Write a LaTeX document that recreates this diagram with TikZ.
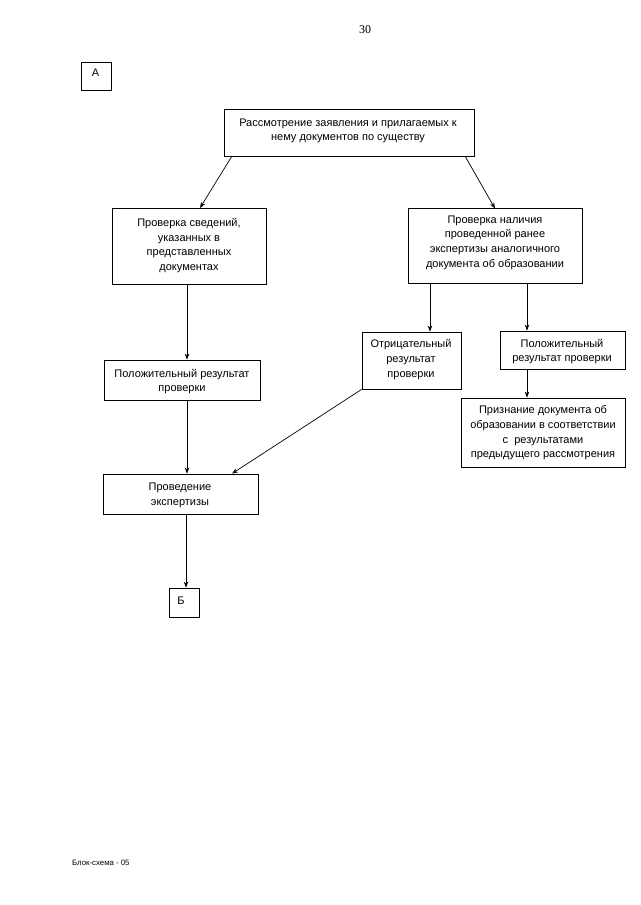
\documentclass[tikz,border=0pt]{standalone}
\usepackage{fontspec}
\setmainfont{Liberation Sans}
\newfontfamily\serifnum{Liberation Serif}
\usetikzlibrary{arrows.meta}
\begin{document}
\begin{tikzpicture}[x=1pt,y=-1pt,
  every node/.style={font=\fontsize{11}{14.6}\selectfont},
  blk/.style={draw,line width=0.8pt,inner sep=0pt},
  txt/.style={align=center,inner sep=0pt},
  arr/.style={line width=0.7pt,-{Stealth[length=6pt,width=4.5pt]}}]
\useasboundingbox (0,0) rectangle (640,905);
\node[font=\serifnum\fontsize{12}{14}\selectfont] (pg) at (365,30) {30};
% boxes
\node[blk,minimum width=30pt,minimum height=28pt] (A) at (96.5,76) {};
\node[blk,minimum width=250pt,minimum height=47pt] (top) at (349,132.5) {};
\node[blk,minimum width=154pt,minimum height=76pt] (chk1) at (189,246) {};
\node[blk,minimum width=174pt,minimum height=75pt] (chk2) at (495,246) {};
\node[blk,minimum width=156pt,minimum height=40pt] (pos1) at (182,380) {};
\node[blk,minimum width=99pt,minimum height=57pt] (neg) at (411.5,360.5) {};
\node[blk,minimum width=125pt,minimum height=38pt] (pos2) at (562.5,350) {};
\node[blk,minimum width=164pt,minimum height=69pt] (rec) at (543,432.5) {};
\node[blk,minimum width=155pt,minimum height=40pt] (exp) at (180.5,494) {};
\node[blk,minimum width=30pt,minimum height=29pt] (B) at (184,602.5) {};
% texts
\node[txt] (At) at (95.5,73) {А};
\node[txt] (topt) at (348,131) {Рассмотрение заявления и прилагаемых к\\нему документов по существу};
\node[txt] (chk1t) at (189,245.5) {Проверка сведений,\\указанных в\\представленных\\документах};
\node[txt] (chk2t) at (495,242.5) {Проверка наличия\\проведенной ранее\\экспертизы аналогичного\\документа об образовании};
\node[txt] (pos1t) at (182,381.5) {Положительный результат\\проверки};
\node[txt] (negt) at (411,359.5) {Отрицательный\\результат\\проверки};
\node[txt] (pos2t) at (562,351.5) {Положительный\\результат проверки};
\node[txt] (rect) at (543,433) {Признание документа об\\образовании в соответствии\\с \ результатами\\предыдущего рассмотрения};
\node[txt] (expt) at (180,495.5) {Проведение\\экспертизы};
\node[txt] (Bt) at (181,601) {Б};
\node[font=\fontsize{7.8}{9}\selectfont,anchor=west,inner sep=0pt] (foot) at (72,863) {Блок-схема - 05};
% connectors
\coordinate (t1) at (232,156);
\coordinate (t2) at (465,156);
\coordinate (c1) at (200,208);
\coordinate (c2) at (495,208.5);
\draw[arr] (t1) -- (c1);
\draw[arr] (t2) -- (c2);
\draw[arr] (chk1.south -| 187,0) -- (pos1.north -| 187,0);
\draw[arr] (chk2.south -| 430,0) -- (neg.north -| 430,0);
\draw[arr] (chk2.south -| 527,0) -- (pos2.north -| 527,0);
\draw[arr] (pos2.south -| 527,0) -- (rec.north -| 527,0);
\draw[arr] (pos1.south -| 187,0) -- (exp.north -| 187,0);
\draw[arr] (neg.south west) -- (exp.north -| 232,0);
\draw[arr] (exp.south -| 186,0) -- (B.north -| 186,0);
\end{tikzpicture}
\end{document}
